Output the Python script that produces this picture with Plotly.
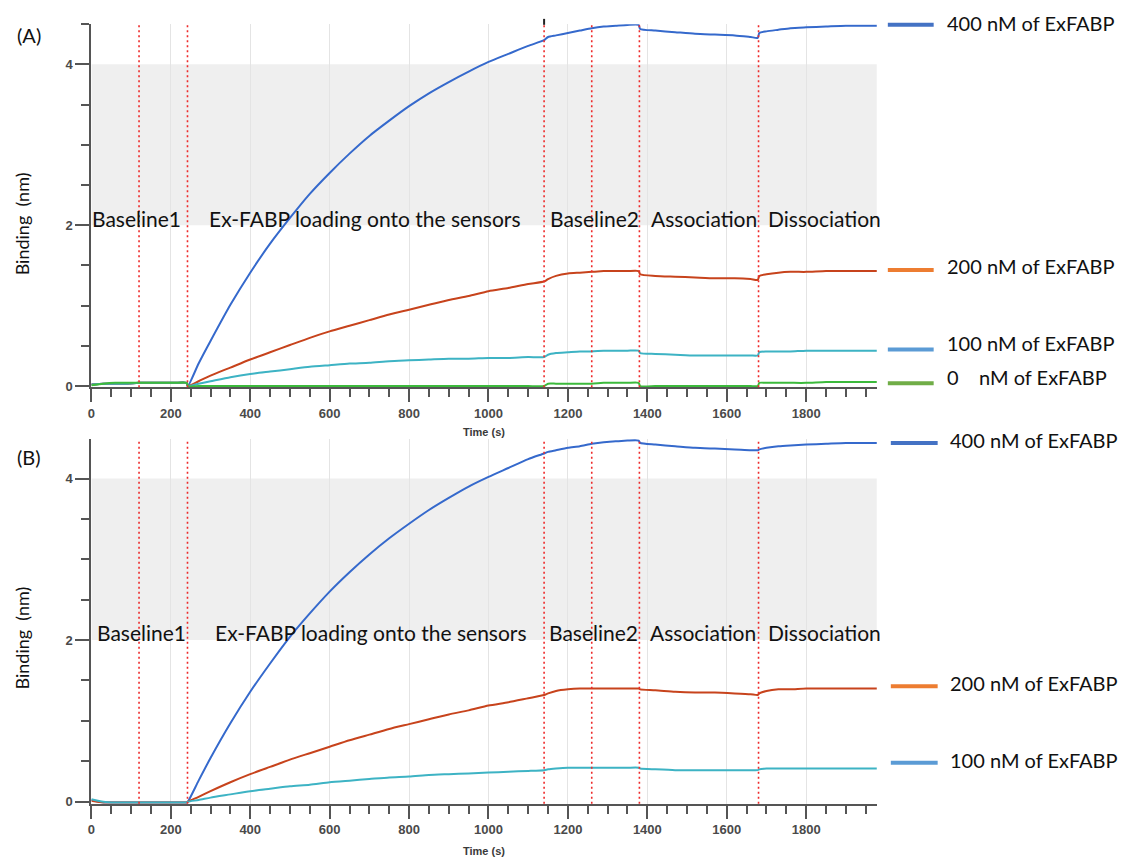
import plotly.graph_objects as go

# ---- data -------------------------------------------------------------
# Sample times (s) shared by every sensorgram
time_s = [0, 30, 60, 90, 120, 150, 180, 210, 240, 243,
          270, 300, 350, 400, 450, 500, 550, 600, 650, 700,
          750, 800, 850, 900, 950, 1000, 1050, 1100, 1140,
          1150, 1170, 1200, 1230, 1260, 1290, 1320, 1350, 1378, 1382,
          1420, 1470, 1520, 1570, 1620, 1660, 1678, 1682,
          1700, 1730, 1760, 1800, 1850, 1900, 1950, 1978]

# Panel A responses (nm)
a_400 = [0.02, 0.03, 0.03, 0.03, 0.04, 0.04, 0.04, 0.04, 0.04, 0.00,
         0.28, 0.56, 1.01, 1.41, 1.77, 2.09, 2.39, 2.65, 2.89, 3.11,
         3.30, 3.48, 3.64, 3.78, 3.91, 4.03, 4.13, 4.23, 4.30,
         4.34, 4.36, 4.39, 4.42, 4.45, 4.47, 4.48, 4.49, 4.49, 4.44,
         4.42, 4.40, 4.38, 4.37, 4.36, 4.34, 4.33, 4.39,
         4.41, 4.43, 4.45, 4.46, 4.47, 4.48, 4.48, 4.48]
a_200 = [0.02, 0.03, 0.03, 0.03, 0.04, 0.04, 0.04, 0.04, 0.04, 0.00,
         0.06, 0.13, 0.23, 0.33, 0.42, 0.51, 0.60, 0.68, 0.75, 0.82,
         0.89, 0.95, 1.01, 1.07, 1.12, 1.18, 1.22, 1.27, 1.30,
         1.33, 1.37, 1.40, 1.41, 1.42, 1.43, 1.43, 1.43, 1.43, 1.39,
         1.37, 1.36, 1.35, 1.34, 1.34, 1.33, 1.32, 1.37,
         1.39, 1.41, 1.42, 1.42, 1.43, 1.43, 1.43, 1.43]
a_100 = [0.02, 0.03, 0.03, 0.03, 0.04, 0.04, 0.04, 0.04, 0.04, 0.00,
         0.03, 0.06, 0.11, 0.15, 0.18, 0.21, 0.24, 0.26, 0.28, 0.29,
         0.31, 0.32, 0.33, 0.34, 0.34, 0.35, 0.35, 0.36, 0.36,
         0.39, 0.41, 0.42, 0.43, 0.43, 0.44, 0.44, 0.44, 0.44, 0.41,
         0.40, 0.39, 0.38, 0.38, 0.38, 0.38, 0.38, 0.42,
         0.43, 0.43, 0.43, 0.44, 0.44, 0.44, 0.44, 0.44]
a_000 = [0.01, 0.03, 0.04, 0.04, 0.04, 0.04, 0.04, 0.04, 0.04, 0.00,
         0.00, 0.00, 0.00, 0.00, 0.00, 0.00, 0.00, 0.00, 0.00, 0.00,
         0.00, 0.00, 0.00, 0.00, 0.00, 0.00, 0.00, 0.00, 0.00,
         0.03, 0.03, 0.03, 0.03, 0.03, 0.04, 0.04, 0.04, 0.04, 0.00,
         0.00, 0.00, 0.00, 0.00, 0.00, 0.00, 0.00, 0.04,
         0.04, 0.04, 0.04, 0.04, 0.05, 0.05, 0.05, 0.05]

# Panel B responses (nm)
b_400 = [0.02, -0.01, -0.01, -0.01, -0.01, -0.01, -0.01, -0.01, -0.01, 0.00,
         0.26, 0.54, 0.97, 1.36, 1.71, 2.04, 2.33, 2.60, 2.84, 3.06,
         3.26, 3.44, 3.61, 3.76, 3.90, 4.02, 4.13, 4.24, 4.31,
         4.33, 4.35, 4.38, 4.40, 4.43, 4.45, 4.46, 4.47, 4.47, 4.44,
         4.42, 4.40, 4.38, 4.37, 4.36, 4.35, 4.35, 4.36,
         4.38, 4.40, 4.41, 4.42, 4.43, 4.44, 4.44, 4.44]
b_200 = [0.01, -0.01, -0.01, -0.01, -0.01, -0.01, -0.01, -0.01, -0.01, 0.00,
         0.06, 0.13, 0.24, 0.34, 0.43, 0.52, 0.60, 0.68, 0.76, 0.83,
         0.90, 0.96, 1.02, 1.08, 1.13, 1.19, 1.23, 1.28, 1.32,
         1.34, 1.37, 1.39, 1.40, 1.40, 1.40, 1.40, 1.40, 1.40, 1.39,
         1.38, 1.36, 1.35, 1.35, 1.34, 1.33, 1.32, 1.34,
         1.37, 1.39, 1.39, 1.40, 1.40, 1.40, 1.40, 1.40]
b_100 = [0.03, 0.00, -0.01, -0.01, -0.01, -0.01, -0.01, -0.01, -0.01, 0.00,
         0.02, 0.05, 0.09, 0.13, 0.16, 0.19, 0.21, 0.24, 0.26, 0.28,
         0.30, 0.31, 0.33, 0.34, 0.35, 0.36, 0.37, 0.38, 0.39,
         0.40, 0.41, 0.42, 0.42, 0.42, 0.42, 0.42, 0.42, 0.42, 0.41,
         0.40, 0.39, 0.39, 0.39, 0.39, 0.39, 0.39, 0.40,
         0.41, 0.41, 0.41, 0.41, 0.41, 0.41, 0.41, 0.41]

# Step boundaries (s) and step names
step_bounds = [120, 242, 1140, 1260, 1380, 1680]
step_names = ["Baseline1", "Ex-FABP loading onto the sensors",
              "Baseline2", "Association", "Dissociation"]
legend_names = ["400 nM of ExFABP", "200 nM of ExFABP",
                "100 nM of ExFABP", "0\u00a0\u00a0\u00a0\u00a0nM of ExFABP"]

# ---- styling ------------------------------------------------------------
W, H = 1121, 863
def px(x):
    return x / W
def py(y):
    return 1 - y / H

curve_colors = {"400": "#3569cc", "200": "#c7431c", "100": "#3db3c4", "0": "#3cba3c"}
legend_colors = ["#4472C4", "#ED7D31", "#5B9BD5", "#70AD47"]
axis_col = "#555555"
tick_font = dict(family="Liberation Sans", size=13, color="#4a4a4a", weight="bold")
text_font = dict(family="Lato", size=21, color="#111111")

# vertical extent (paper) of each panel
dom_a = [py(390), py(24.3)]
dom_b = [py(809.3), py(442)]

fig = go.Figure()

panels = [
    ("", [("400", a_400), ("200", a_200), ("100", a_100), ("0", a_000)]),
    ("2", [("400", b_400), ("200", b_200), ("100", b_100)]),
]
for sx, series in panels:
    for key, vals in series:
        fig.add_trace(go.Scatter(x=time_s, y=vals, mode="lines",
                                 line=dict(color=curve_colors[key], width=2,
                                           shape="spline", smoothing=0.6),
                                 xaxis="x" + sx, yaxis="y" + sx, showlegend=False,
                                 hoverinfo="skip"))


def x_axis():
    return dict(range=[0, 1978], domain=[px(87.7), px(876)], showline=True,
                linecolor=axis_col, linewidth=2, ticks="outside", ticklen=13,
                tickwidth=2, tickcolor=axis_col, dtick=200, tick0=0,
                tickfont=dict(tick_font), showgrid=True, gridcolor="#e4e4e4",
                gridwidth=1, zeroline=False,
                minor=dict(dtick=50, ticklen=8, tickwidth=2, tickcolor=axis_col,
                           ticks="outside", showgrid=False))


def y_axis(dom, rng):
    return dict(domain=dom, range=rng, showline=True, linecolor=axis_col,
                linewidth=2, ticks="outside", ticklen=14, tickwidth=2,
                tickcolor=axis_col, dtick=2, tick0=0, tickfont=dict(tick_font),
                showgrid=False, zeroline=False,
                minor=dict(dtick=0.5, ticklen=8, tickwidth=2, tickcolor=axis_col,
                           ticks="outside", showgrid=False))


layout = dict(width=W, height=H, margin=dict(l=0, r=0, t=0, b=0),
              plot_bgcolor="white", paper_bgcolor="white")
layout["xaxis"] = dict(x_axis(), anchor="y")
layout["yaxis"] = dict(y_axis(dom_a, [-0.015, 4.5]), anchor="x")
layout["xaxis2"] = dict(x_axis(), anchor="y2")
layout["yaxis2"] = dict(y_axis(dom_b, [-0.025, 4.49]), anchor="x2")
fig.update_layout(**layout)

for sx, dom in [("", dom_a), ("2", dom_b)]:
    xr, yr = "x" + sx, "y" + sx
    # grey band between 2 and 4 nm
    fig.add_shape(type="rect", xref=xr, yref=yr, x0=0, x1=1978, y0=2, y1=4,
                  fillcolor="#efefef", line=dict(width=0), layer="below")
    # step boundaries, full panel height
    for b in step_bounds:
        fig.add_shape(type="line", xref=xr, yref="paper", x0=b, x1=b,
                      y0=dom[0], y1=dom[1],
                      line=dict(color="#ee2a2a", width=1.6, dash="2px,3px"))

# small marker above the 1140 s boundary
fig.add_shape(type="line", xref="x", yref="paper", x0=1140, x1=1140,
              y0=py(25), y1=py(19), line=dict(color="#222222", width=2))

# step names
step_x_a = [86.7, 204, 545.7, 647, 765]
step_x_b = [91.2, 210, 544.5, 646, 765]
for xs, yc in [(step_x_a, 220), (step_x_b, 637)]:
    for name, x0 in zip(step_names, xs):
        fig.add_annotation(text=name, x=px(x0), y=py(yc), xref="paper",
                           yref="paper", xanchor="left", yanchor="middle",
                           showarrow=False, font=text_font)

# right-hand key
key_rows = [
    (25, 23, 0), (272, 268, 1), (352, 345, 2), (386, 380, 3),
    (446, 443, 0), (691, 688, 1), (768, 765, 2),
]
for line_y, text_y, idx in key_rows:
    bottom = line_y > 420
    x0, x1, xt = (890, 937, 947) if bottom else (887, 933, 944)
    fig.add_shape(type="line", xref="paper", yref="paper", x0=px(x0), x1=px(x1),
                  y0=py(line_y), y1=py(line_y),
                  line=dict(color=legend_colors[idx], width=4))
    fig.add_annotation(text=legend_names[idx], x=px(xt), y=py(text_y),
                       xref="paper", yref="paper", xanchor="left",
                       yanchor="middle", showarrow=False,
                       font=dict(family="Lato", size=20, color="#111111"))

# panel letters, axis titles
for lbl, yc in [("(A)", 35), ("(B)", 460)]:
    fig.add_annotation(text=lbl, x=px(11), y=py(yc), xref="paper", yref="paper",
                       xanchor="left", yanchor="middle", showarrow=False,
                       font=dict(family="Lato", size=20, color="#111111"))
for yc in [225, 642]:
    fig.add_annotation(text="Binding  (nm)", x=px(18), y=py(yc), xref="paper",
                       yref="paper", xanchor="center", yanchor="middle",
                       textangle=-90, showarrow=False,
                       font=dict(family="Lato", size=18, color="#111111"))
for yc in [435, 857]:
    fig.add_annotation(text="<b>Time (s)</b>", x=px(482), y=py(yc), xref="paper",
                       yref="paper", xanchor="center", yanchor="middle",
                       showarrow=False,
                       font=dict(family="Liberation Sans", size=11, color="#3a3a3a"))

fig.write_html("out.html")
